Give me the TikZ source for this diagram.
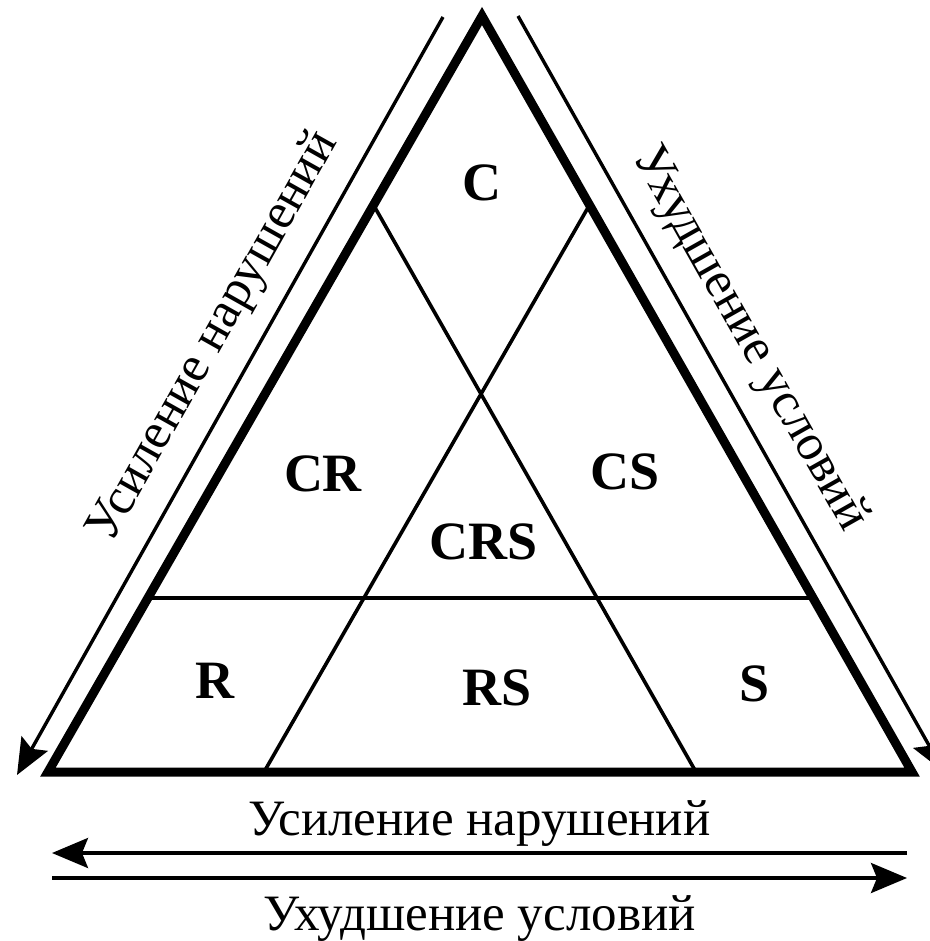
\documentclass[tikz,border=0pt]{standalone}
\usepackage{fontspec}
\setmainfont{Liberation Serif}
\usepackage{tikz}
\usetikzlibrary{arrows.meta,positioning,calc}
\tikzset{
  myedge/.style = {line width=4.5pt, line join=miter},
  mythin/.style = {line width=1.8pt},
  myarrow/.style = {-{Stealth[length=18pt, width=15pt, inset=3pt]}, line width=1.7pt},
  mylabel/.style = {font=\fontsize{27}{30}\selectfont\bfseries, inner sep=0pt},
  mytext/.style = {font=\fontsize{25.5}{29}\selectfont, inner sep=0pt},
}

\begin{document}
\begin{tikzpicture}[x=0.5pt, y=-0.5pt]
\useasboundingbox (0,0) rectangle (930,941);
% corners of the triangle
\coordinate (top) at (482,16);
\coordinate (bl) at (48,772);
\coordinate (br) at (912,772);
% inner division
\coordinate (l1) at ($(top)!0.25!(bl)$);
\coordinate (r1) at ($(top)!0.25!(br)$);
\coordinate (l2) at ($(top)!0.77!(bl)$);
\coordinate (r2) at ($(top)!0.77!(br)$);
\coordinate (b1) at ($(bl)!0.25!(br)$);
\coordinate (b2) at ($(bl)!0.75!(br)$);
\draw[mythin] (l1) -- (b2);
\draw[mythin] (r1) -- (b1);
\draw[mythin] (l2) -- (r2);
\draw[myedge] (top) -- (bl) -- (br) -- cycle;
% regions
\node[mylabel] (c) at (482,183) {C};
\node[mylabel] (cr) at (323,474) {CR};
\node[mylabel] (cs) at (625,472) {CS};
\node[mylabel] (crs) at (484,542) {CRS};
\node[mylabel] (r) at (215,681) {R};
\node[mylabel] (rs) at (497,688) {RS};
\node[mylabel] (s) at (755,684) {S};
% arrows with captions
\coordinate (la1) at (443,17);
\coordinate (la2) at (17,775);
\coordinate (ra1) at (518,16);
\coordinate (ra2) at (944,772);
\coordinate (ba1) at (907,853);
\coordinate (ba2) at (52,853);
\coordinate (bb1) at (52,878);
\coordinate (bb2) at (907,878);
\draw[myarrow] (la1) -- node[mytext, sloped, pos=0.45, above=9pt] {Усиление нарушений} (la2);
\draw[myarrow] (ra1) -- node[mytext, sloped, pos=0.455, above=9pt] {Ухудшение условий} (ra2);
\draw[myarrow] (ba1) -- node[mytext, pos=0.5, anchor=base, yshift=9pt] {Усиление нарушений} (ba2);
\draw[myarrow] (bb1) -- node[mytext, pos=0.5, anchor=base, yshift=-26pt] {Ухудшение условий} (bb2);
\end{tikzpicture}
\end{document}
